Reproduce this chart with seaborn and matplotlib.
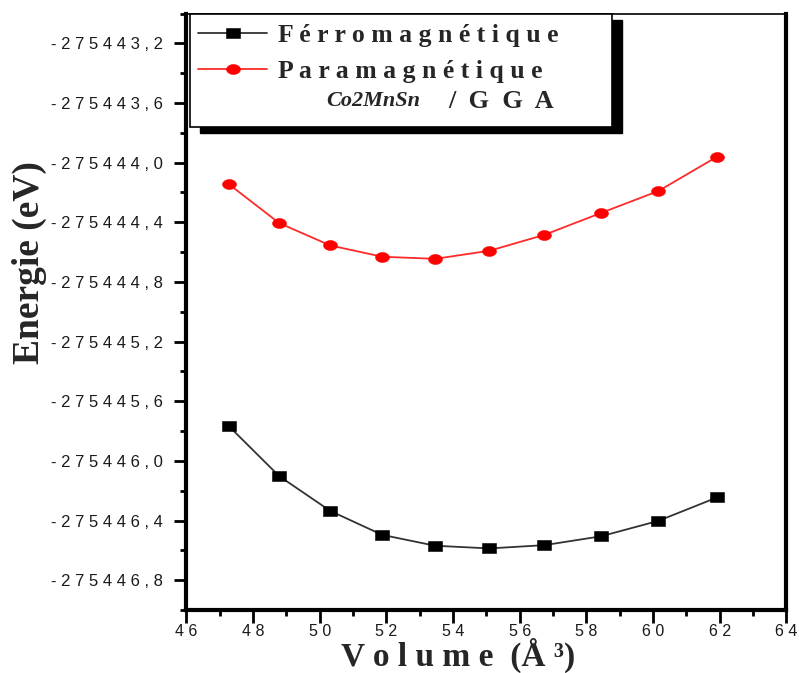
import numpy as np
import pandas as pd
import matplotlib
matplotlib.use("Agg")
import matplotlib.pyplot as plt
from matplotlib.patches import Rectangle
from matplotlib.lines import Line2D
from matplotlib.ticker import FixedLocator, MultipleLocator, FuncFormatter
import seaborn as sns

# ---------------- data ----------------
volume = [47.28, 48.78, 50.31, 51.87, 53.46, 55.09, 56.74, 58.43, 60.16, 61.92]
energy_ferro = [-275445.769, -275446.102, -275446.335, -275446.496, -275446.569,
                -275446.587, -275446.565, -275446.506, -275446.402, -275446.245]
energy_para = [-275444.146, -275444.405, -275444.555, -275444.631, -275444.645,
               -275444.591, -275444.484, -275444.338, -275444.190, -275443.960]
x_ticks = [46, 48, 50, 52, 54, 56, 58, 60, 62, 64]
y_ticks = [-275446.8, -275446.4, -275446.0, -275445.6, -275445.2,
           -275444.8, -275444.4, -275444.0, -275443.6, -275443.2]
label_ferro = "Férromagnétique"
label_para = "Paramagnétique"
compound = "Co2MnSn"
method = "GGA"
ylabel = "Energie (eV)"


def spaced(s, sep=" "):
    return sep.join(s)


sns.set_style("ticks")
plt.rcParams["font.family"] = ["Liberation Sans", "DejaVu Sans"]

fig = plt.figure(figsize=(7.99, 6.73), dpi=100)
ax = fig.add_axes([0.2334, 0.0936, 0.7509, 0.8863])

# elliptical / rectangular markers (the original image is slightly stretched)
t = np.linspace(0, 2 * np.pi, 41)
ellipse_marker = list(zip(1.4 * np.cos(t), np.sin(t)))
rect_marker = [(-1.45, -1), (1.45, -1), (1.45, 1), (-1.45, 1), (-1.45, -1)]

ferro_style = dict(color="#333333", linewidth=1.3, marker=rect_marker, markersize=9.5,
                   markerfacecolor="black", markeredgecolor="black", markeredgewidth=0.4)
para_style = dict(color="#ff2a2a", linewidth=1.3, marker=ellipse_marker, markersize=10,
                  markerfacecolor="#ff0000", markeredgecolor="#ff0000", markeredgewidth=0.4)

sns.lineplot(x=volume, y=energy_ferro, ax=ax, sort=False, legend=False, **ferro_style)
sns.lineplot(x=volume, y=energy_para, ax=ax, sort=False, legend=False, **para_style)

ax.set_xlim(46, 64)
ax.set_ylim(-275447.0, -275443.0)
ax.xaxis.set_major_locator(FixedLocator(x_ticks))
ax.xaxis.set_minor_locator(MultipleLocator(1))
ax.yaxis.set_major_locator(FixedLocator(y_ticks))
ax.yaxis.set_minor_locator(MultipleLocator(0.2))
ax.xaxis.set_major_formatter(FuncFormatter(lambda v, p: spaced(f"{v:.0f}")))
ax.yaxis.set_major_formatter(FuncFormatter(lambda v, p: spaced(f"{v:.1f}".replace(".", ","))))

ax.tick_params(axis="both", which="major", direction="out", length=9, width=2,
               labelsize=12, labelcolor="#1a1a1a", color="black",
               top=False, right=False)
ax.tick_params(axis="both", which="minor", direction="out", length=4.5, width=2,
               color="black", top=False, right=False)
ax.tick_params(axis="y", which="major", pad=8)
ax.tick_params(axis="x", which="major", pad=1, labelsize=11.5)

for side in ["left", "bottom", "right"]:
    ax.spines[side].set_linewidth(3)
    ax.spines[side].set_color("black")
ax.spines["top"].set_linewidth(1.2)
ax.spines["top"].set_color("black")
ax.spines["top"].set_visible(True)
ax.spines["right"].set_visible(True)

serif = ["Liberation Serif", "DejaVu Serif"]
ax.set_xlabel(spaced("Volume") + "  (Å ³)", fontfamily=serif, fontweight="bold", fontsize=24,
              va="baseline")
ax.set_ylabel(ylabel, fontfamily=serif, fontweight="bold", fontsize=27)
ax.xaxis.set_label_coords(0.452, -0.094)
ax.yaxis.set_label_coords(-0.232, 0.583)

# legend box with hard shadow
bx0, by0, bw, bh = 0.0058, 0.8097, 0.7033, 0.1903
shadow = Rectangle((bx0 + 0.0167, by0 - 0.0105), bw, bh, transform=ax.transAxes,
                   facecolor="black", edgecolor="black", zorder=10, clip_on=False)
box = Rectangle((bx0, by0), bw, bh, transform=ax.transAxes,
                facecolor="white", edgecolor="black", linewidth=1.2, zorder=11, clip_on=False)
ax.add_patch(shadow)
ax.add_patch(box)

handles = [Line2D([], [], **ferro_style), Line2D([], [], **para_style)]
leg = ax.legend(handles, [spaced(label_ferro), spaced(label_para)],
                loc="upper left", bbox_to_anchor=(0.019, 0.983), bbox_transform=ax.transAxes,
                frameon=False, prop=dict(family=serif, weight="bold", size=18.5),
                handlelength=2.7, handletextpad=0.4, borderpad=0, borderaxespad=0,
                labelspacing=0.5)
leg.set_zorder(12)

ax.text(0.311, 0.853, compound, transform=ax.transAxes, ha="center", va="center",
        fontfamily=serif, fontstyle="italic", fontweight="bold", fontsize=16, zorder=13)
ax.text(0.524, 0.853, "/  " + spaced(method, "  "), transform=ax.transAxes, ha="center",
        va="center", fontfamily=serif, fontweight="bold", fontsize=19, zorder=13)

fig.savefig("out.png", dpi=100)
